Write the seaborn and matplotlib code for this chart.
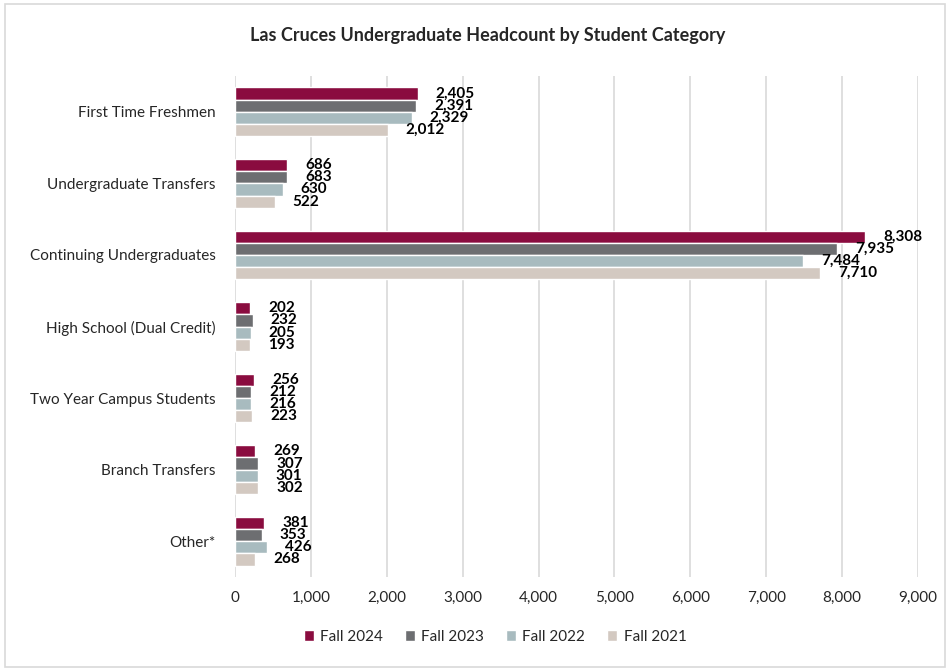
import pandas as pd
import matplotlib.pyplot as plt
import seaborn as sns
from matplotlib.patches import Rectangle

# Dados do gráfico
categorias = [
    "First Time Freshmen", "Undergraduate Transfers", "Continuing Undergraduates",
    "High School (Dual Credit)", "Two Year Campus Students", "Branch Transfers", "Other*"
]
semestres = ["Fall 2024", "Fall 2023", "Fall 2022", "Fall 2021"]
fall_2024 = [2405, 686, 8308, 202, 256, 269, 381]
fall_2023 = [2391, 683, 7935, 232, 212, 307, 353]
fall_2022 = [2329, 630, 7484, 205, 216, 301, 426]
fall_2021 = [2012, 522, 7710, 193, 223, 302, 268]
cores = ["#8A0C3F", "#6D6E71", "#A8BBBF", "#D3C9C1"]

valores = [fall_2024, fall_2023, fall_2022, fall_2021]
df = pd.DataFrame({
    "Categoria": categorias * 4,
    "Semestre": [s for s in semestres for _ in categorias],
    "Headcount": [v for serie in valores for v in serie],
})

sns.set_theme(style="white")
plt.rcParams["font.family"] = ["Lato", "DejaVu Sans"]

fig = plt.figure(figsize=(9.47, 6.68), dpi=100)
ax = fig.add_axes([235 / 947, 1 - 577 / 668, 683 / 947, 501 / 668])

sns.barplot(data=df, y="Categoria", x="Headcount", hue="Semestre", hue_order=semestres,
            order=categorias, palette=cores, orient="h", width=0.68, ax=ax, saturation=1)

for c in ax.containers:
    ax.bar_label(c, labels=[f"{v:,.0f}" for v in c.datavalues], padding=13,
                 fontsize=11, fontweight="bold", color="black")

ax.set_xlim(0, 9000)
ax.set_ylim(6.5, -0.5)
ax.set_xticks(range(0, 9001, 1000))
ax.set_xticklabels([f"{x:,}" for x in range(0, 9001, 1000)])
ax.grid(axis="x", color="#D9D9D9", linewidth=1.2)
ax.set_axisbelow(True)
for s in ax.spines.values():
    s.set_visible(False)
ax.tick_params(axis="both", length=0, labelsize=11, colors="#262626")
ax.tick_params(axis="x", pad=10)
ax.tick_params(axis="y", pad=14)
ax.set_xlabel("")
ax.set_ylabel("")

ax.legend(loc="center", bbox_to_anchor=(495 / 947, 1 - 637 / 668), bbox_transform=fig.transFigure,
          ncol=4, frameon=False, fontsize=11, handlelength=0.7, handleheight=0.7,
          columnspacing=1.4, handletextpad=0.4)

fig.text(488 / 947, 1 - 35 / 668, "Las Cruces Undergraduate Headcount by Student Category",
         ha="center", va="center", fontsize=13, fontweight="bold")

fig.patches.append(Rectangle((5 / 947, 0.002), 940 / 947, 1 - 4 / 668 - 0.002, transform=fig.transFigure,
                             fill=False, edgecolor="#D9D9D9", linewidth=1.2))

plt.savefig("out.png", dpi=100)
